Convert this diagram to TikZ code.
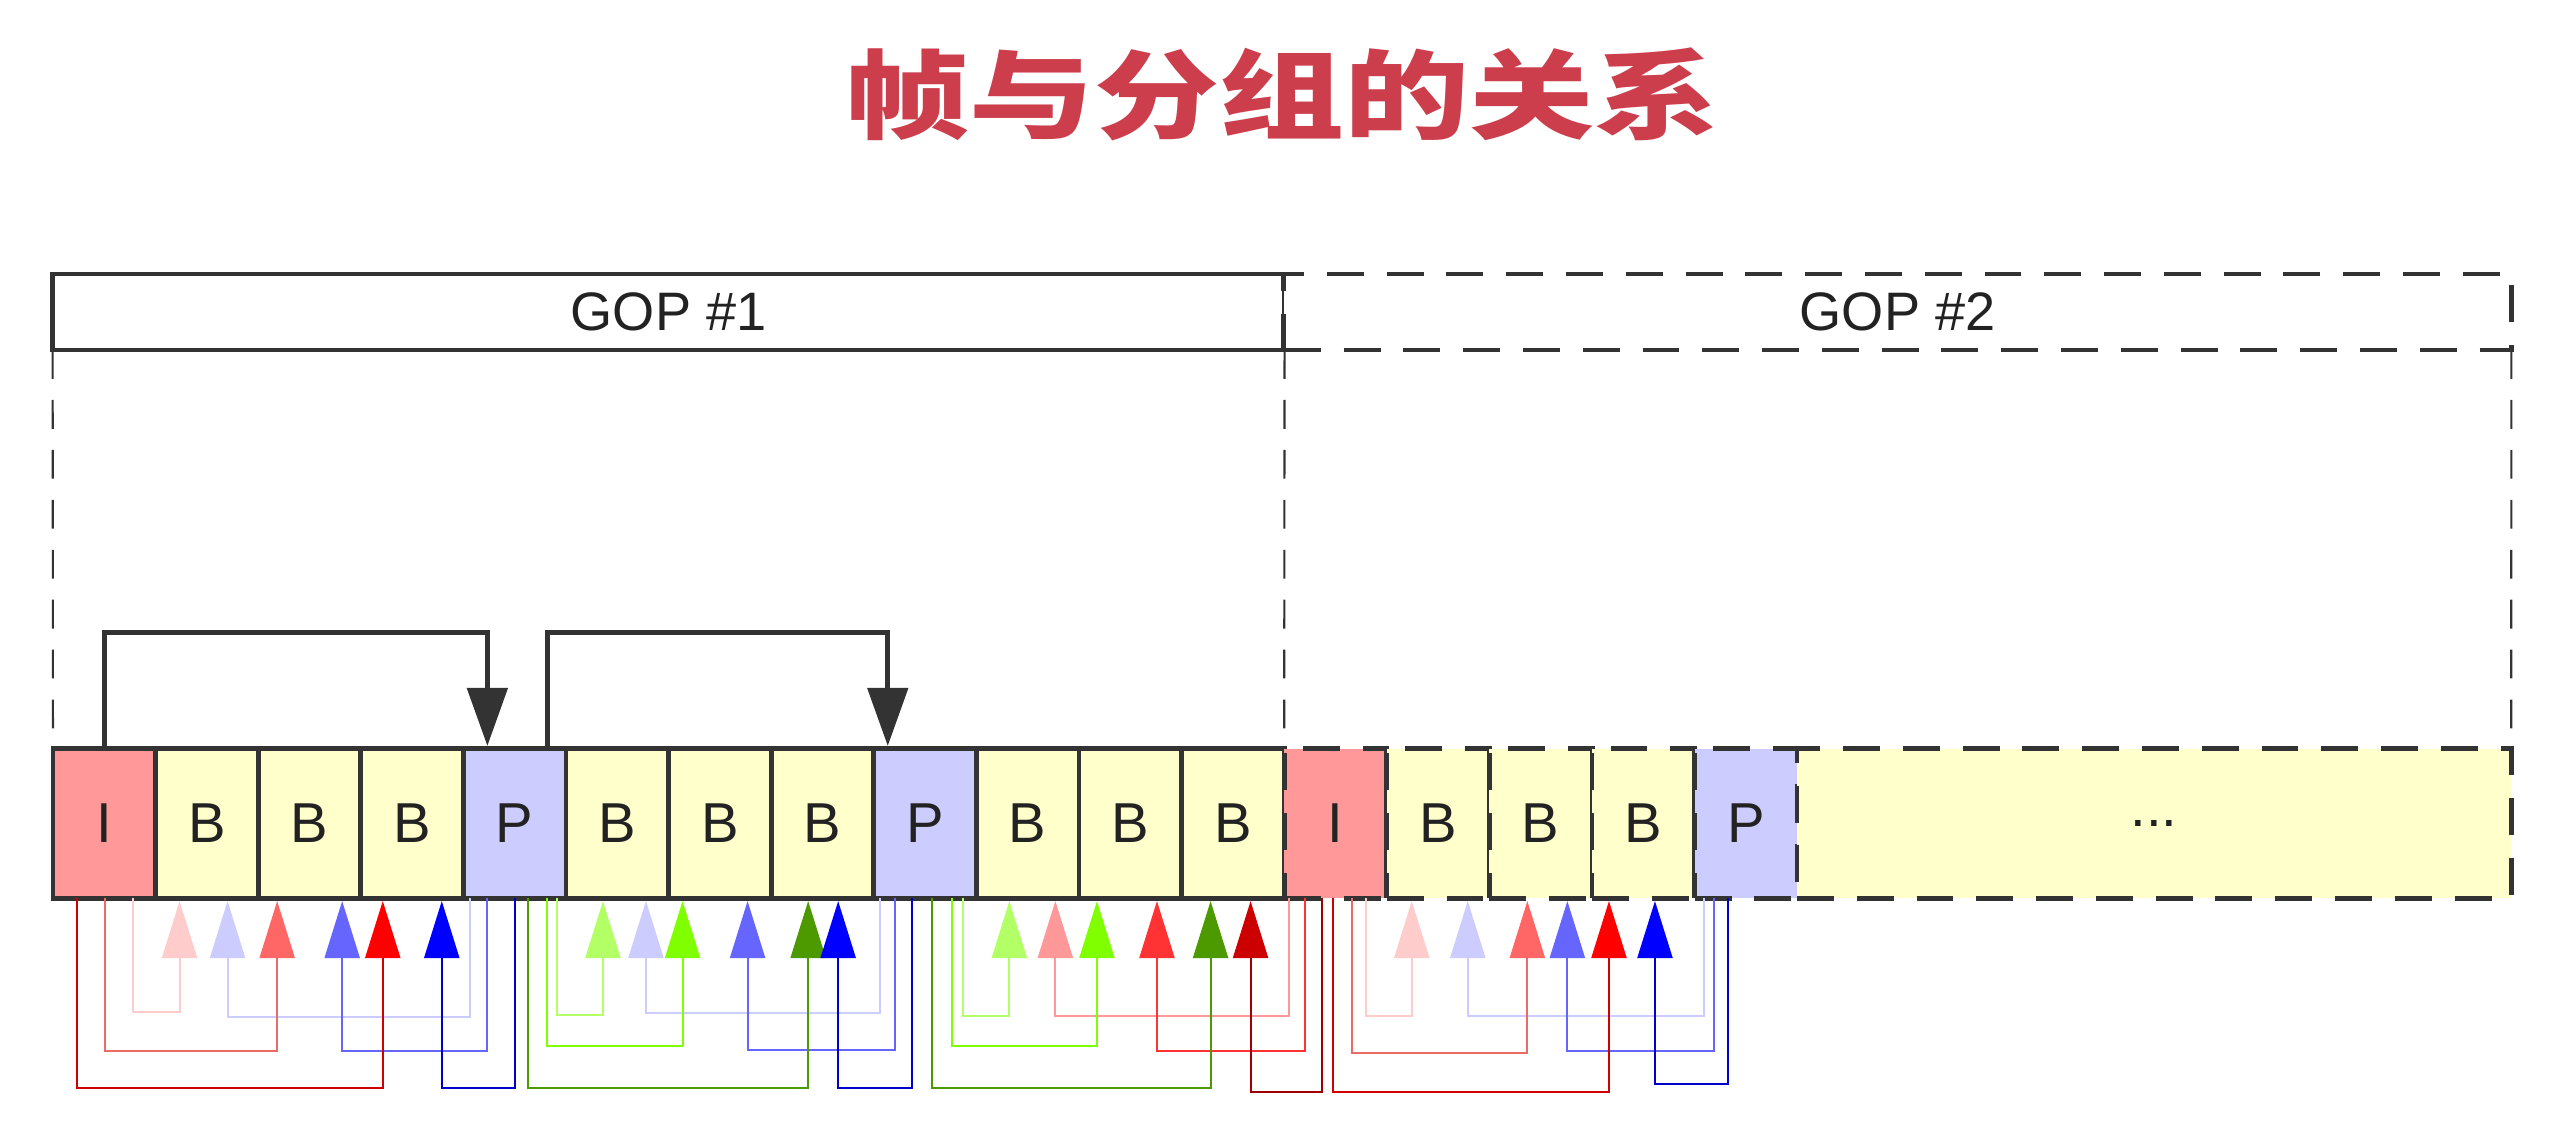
\documentclass[tikz,border=0pt]{standalone}
\usepackage{graphicx}
\usepackage{fontspec}
\setmainfont{Liberation Sans}
\newfontfamily\cjkfont{Noto Sans CJK SC}
\usetikzlibrary{arrows.meta,calc}
\definecolor{bordc}{HTML}{333333}
\definecolor{txtc}{HTML}{222222}
\definecolor{titlec}{RGB}{204,62,76}
\definecolor{ifill}{HTML}{FF9999}
\definecolor{bfill}{HTML}{FFFFCC}
\definecolor{pfill}{HTML}{CCCCFF}
\definecolor{cpink}{HTML}{FFCCCC}
\definecolor{clav}{HTML}{CCCCFF}
\definecolor{csalmon}{HTML}{FF6666}
\definecolor{csalmonb}{HTML}{EA6B66}
\definecolor{cmblue}{HTML}{6666FF}
\definecolor{cred}{HTML}{FF0000}
\definecolor{credl}{HTML}{D00000}
\definecolor{cblue}{HTML}{0000FF}
\definecolor{cbluel}{HTML}{0000CC}
\definecolor{clgreen}{HTML}{B3FF66}
\definecolor{cbgreen}{HTML}{80FF00}
\definecolor{cdgreen}{HTML}{4D9900}
\definecolor{cred2}{HTML}{FF3333}
\definecolor{cdred}{HTML}{CC0000}
\definecolor{cdredl}{HTML}{A00000}
\definecolor{cpink2}{HTML}{FF9999}
\newcommand\conn[7]{\draw[conn={#1}{#2}] ($(#3.south west)+(#4,0)$) -- ++(0,#7) -| ($(#5.south west)+(#6,3)$);}
\begin{document}
\begin{tikzpicture}[x=0.01cm,y=-0.01cm,
  cellbox/.style={draw=bordc, line width=1.4pt, minimum width=1.026cm, minimum height=1.49cm,
    inner sep=0pt, outer sep=0pt, font=\fontsize{16}{18}\selectfont, text=txtc},
  thickdash/.style={dash pattern=on 10.5pt off 6.5pt},
  gopbox/.style={draw=bordc, line width=1.4pt, minimum height=0.76cm, inner sep=0pt, outer sep=0pt,
    font=\fontsize{15.4}{17}\selectfont, text=txtc, fill=white},
  thindash/.style={draw=bordc, line width=0.6pt, dash pattern=on 8.2pt off 6pt},
  blk/.style={draw=bordc, line width=1.4pt, -{Triangle[width=0.40cm,length=0.58cm]}},
  conn/.style 2 args={draw=#1, line width=0.6pt, -{Triangle[width=0.35cm,length=0.57cm,color=#2]}}
]
\fill[white] (0,0) rectangle (2562,1140);
\useasboundingbox (0,0) rectangle (2562,1140);

% title
\node[text=titlec, inner sep=0pt] (title) at (1282,94)
  {\scalebox{1.2}[0.93]{\cjkfont\bfseries\fontsize{29.6}{32}\selectfont 帧与分组的关系}};

% GOP boxes
\node[gopbox, minimum width=12.312cm] (g1) at (668.6,312) {GOP \#1};
\node[gopbox, thickdash, minimum width=12.268cm] (g2) at (1897.6,312) {GOP \#2};

% frames of GOP 1
\foreach \k/\t/\f in {0/I/ifill,1/B/bfill,2/B/bfill,3/B/bfill,4/P/pfill,5/B/bfill,6/B/bfill,7/B/bfill,8/P/pfill,9/B/bfill,10/B/bfill,11/B/bfill}
  \node[cellbox, fill=\f] (c\k) at ({53+102.6*(\k+0.5)},823.5) {\t};
% frames of GOP 2
\foreach \k/\t/\f in {12/I/ifill,13/B/bfill,14/B/bfill,15/B/bfill,16/P/pfill}
  \node[cellbox, thickdash, fill=\f] (c\k) at ({53+102.6*(\k+0.5)},823.5) {\t};
\node[cellbox, thickdash, fill=bfill, minimum width=7.138cm] (dots) at (2154.1,823.5) {...};

% dashed guides
\draw[thindash] (g1.south west) -- (c0.north west);
\draw[thindash] (g1.south east) -- (c12.north west);
\draw[thindash] (g2.south east) -- (dots.north east);

% P-frame references
\draw[blk] (c0.north) -- ++(0,-116) -| ($(c4.north west)+(24,-3)$);
\draw[blk] ($(c4.north west)+(84,0)$) -- ++(0,-116) -| ($(c8.north west)+(14,-3)$);

% B-frame references, group 1
\conn{cpink}{cpink}{c0}{80}{c1}{24}{114}
\conn{clav}{clav}{c4}{7}{c1}{72}{119}
\conn{csalmonb}{csalmon}{c0}{52}{c2}{19}{153}
\conn{cmblue}{cmblue}{c4}{24}{c2}{84}{153}
\conn{credl}{cred}{c0}{24}{c3}{22}{190}
\conn{cbluel}{cblue}{c4}{52}{c3}{81}{190}
% group 2
\conn{clgreen}{clgreen}{c4}{94}{c5}{37}{117}
\conn{clav}{clav}{c8}{6}{c5}{80}{115}
\conn{cbgreen}{cbgreen}{c4}{84}{c6}{14}{148}
\conn{cmblue}{cmblue}{c8}{21}{c6}{79}{152}
\conn{cdgreen}{cdgreen}{c4}{65}{c7}{37}{190}
\conn{cbluel}{cblue}{c8}{38}{c7}{67}{190}
% group 3
\conn{clgreen}{clgreen}{c8}{89}{c9}{33}{118}
\conn{cpink2}{cpink2}{c12}{5}{c9}{79}{118}
\conn{cbgreen}{cbgreen}{c8}{78}{c10}{18}{148}
\conn{cred2}{cred2}{c12}{21}{c10}{78}{153}
\conn{cdgreen}{cdgreen}{c8}{58}{c11}{29}{190}
\conn{cdredl}{cdred}{c12}{38}{c11}{69}{194}
% group 4
\conn{cpink}{cpink}{c12}{82}{c13}{25}{118}
\conn{clav}{clav}{c16}{9}{c13}{81}{118}
\conn{csalmonb}{csalmon}{c12}{68}{c14}{38}{155}
\conn{cmblue}{cmblue}{c16}{19}{c14}{78}{153}
\conn{credl}{cred}{c12}{49}{c15}{17}{194}
\conn{cbluel}{cblue}{c16}{33}{c15}{63}{186}
\end{tikzpicture}
\end{document}
